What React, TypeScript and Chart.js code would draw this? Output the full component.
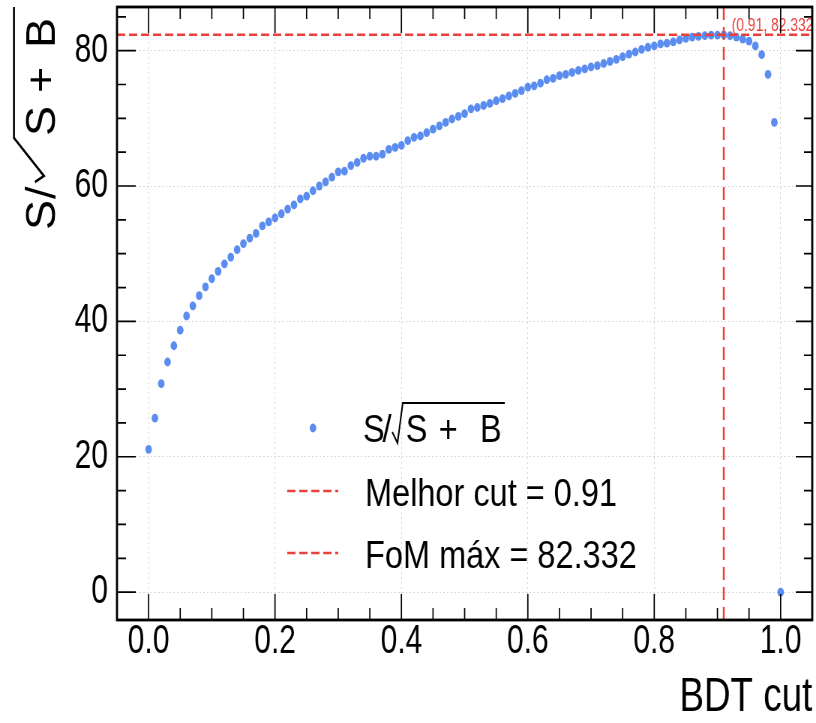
import React, { useEffect, useRef } from 'react';
import { Chart, registerables } from 'chart.js';

Chart.register(...registerables);

// ---------------- data ----------------
const bdtCut: number[] = [
  0.00, 0.01, 0.02, 0.03, 0.04, 0.05, 0.06, 0.07, 0.08, 0.09,
  0.10, 0.11, 0.12, 0.13, 0.14, 0.15, 0.16, 0.17, 0.18, 0.19,
  0.20, 0.21, 0.22, 0.23, 0.24, 0.25, 0.26, 0.27, 0.28, 0.29,
  0.30, 0.31, 0.32, 0.33, 0.34, 0.35, 0.36, 0.37, 0.38, 0.39,
  0.40, 0.41, 0.42, 0.43, 0.44, 0.45, 0.46, 0.47, 0.48, 0.49,
  0.50, 0.51, 0.52, 0.53, 0.54, 0.55, 0.56, 0.57, 0.58, 0.59,
  0.60, 0.61, 0.62, 0.63, 0.64, 0.65, 0.66, 0.67, 0.68, 0.69,
  0.70, 0.71, 0.72, 0.73, 0.74, 0.75, 0.76, 0.77, 0.78, 0.79,
  0.80, 0.81, 0.82, 0.83, 0.84, 0.85, 0.86, 0.87, 0.88, 0.89,
  0.90, 0.91, 0.92, 0.93, 0.94, 0.95, 0.96, 0.97, 0.98, 0.99,
  1.00,
];

const fomValues: number[] = [
  21.1, 25.7, 30.8, 34.0, 36.4, 38.7, 40.8, 42.3, 43.8, 45.1,
  46.3, 47.4, 48.5, 49.5, 50.6, 51.5, 52.3, 53.0, 54.1, 54.7,
  55.3, 55.9, 56.6, 57.2, 58.1, 58.5, 59.3, 60.0, 60.6, 61.3,
  62.1, 62.2, 63.0, 63.5, 64.1, 64.4, 64.4, 64.7, 65.4, 65.7,
  66.0, 66.7, 67.2, 67.4, 67.9, 68.4, 68.9, 69.4, 69.9, 70.3,
  70.7, 71.4, 71.6, 71.9, 72.2, 72.6, 72.9, 73.3, 73.7, 74.1,
  74.6, 74.8, 75.2, 75.7, 75.9, 76.3, 76.5, 76.8, 77.1, 77.3,
  77.6, 77.8, 78.1, 78.4, 78.7, 79.1, 79.5, 79.8, 80.2, 80.5,
  80.7, 81.0, 81.1, 81.3, 81.6, 81.8, 82.0, 82.1, 82.2, 82.3,
  82.3, 82.332, 82.2, 82.0, 81.7, 81.4, 80.7, 79.4, 76.5, 69.4,
  0.0,
];

const bestCut = 0.91;
const fomMax = 82.332;
const xLimits: number[] = [-0.05, 1.05];
const yLimits: number[] = [-4.117, 86.449];
const xTickStep = 0.2;
const yTickStep = 20;
const xTitle = 'BDT cut';
const seriesLabel = 'S/√(S+B)';
const cutLabel = 'Melhor cut = 0.91';
const fomLabel = 'FoM máx = 82.332';
const annotationText = '(0.91, 82.332)';

// ---------------- styles ----------------
const RED = '#e9403b';
const BLUE = '#5b8df0';
const FONT = "'Liberation Sans', Arial, sans-serif";
const W = 1088; // internal canvas width (displayed squeezed to 816)
const H = 723;
const SQ = 816 / W;

function minorValues(majors: number[], div: number, min: number, max: number): number[] {
  if (majors.length < 2) return [];
  const step = (majors[1] - majors[0]) / div;
  const out: number[] = [];
  for (let i = -div * 2; i <= (majors.length + 2) * div; i++) {
    if (i % div === 0) continue;
    const v = majors[0] + i * step;
    if (v > min + step * 0.01 && v < max - step * 0.01) out.push(v);
  }
  return out;
}

const decorPlugin = {
  id: 'decor',
  afterDraw(chart: any) {
    const ctx: CanvasRenderingContext2D = chart.ctx;
    const ca = chart.chartArea;
    const xs = chart.scales.x;
    const ys = chart.scales.y;

    // annotation text (clipped to plot frame)
    ctx.save();
    ctx.beginPath();
    ctx.rect(ca.left, ca.top, ca.right - ca.left, ca.bottom - ca.top);
    ctx.clip();
    ctx.fillStyle = RED;
    ctx.font = `18.5px ${FONT}`;
    ctx.textBaseline = 'alphabetic';
    ctx.textAlign = 'left';
    ctx.fillText(annotationText, xs.getPixelForValue(bestCut) + 10.5, ys.getPixelForValue(fomMax) - 4);
    ctx.restore();

    // ticks (inside, all four sides) + frame
    ctx.save();
    ctx.strokeStyle = '#000';
    ctx.lineWidth = 1.7;
    const xMaj = xs.ticks.map((t: any) => t.value);
    const yMaj = ys.ticks.map((t: any) => t.value);
    const xMin = minorValues(xMaj, 4, xs.min, xs.max);
    const yMin = minorValues(yMaj, 4, ys.min, ys.max);
    ctx.beginPath();
    xMaj.forEach((v: number) => {
      const p = xs.getPixelForValue(v);
      ctx.moveTo(p, ca.bottom); ctx.lineTo(p, ca.bottom - 26);
      ctx.moveTo(p, ca.top); ctx.lineTo(p, ca.top + 26);
    });
    xMin.forEach((v: number) => {
      const p = xs.getPixelForValue(v);
      ctx.moveTo(p, ca.bottom); ctx.lineTo(p, ca.bottom - 12);
      ctx.moveTo(p, ca.top); ctx.lineTo(p, ca.top + 12);
    });
    yMaj.forEach((v: number) => {
      const p = ys.getPixelForValue(v);
      ctx.moveTo(ca.left, p); ctx.lineTo(ca.left + 25, p);
      ctx.moveTo(ca.right, p); ctx.lineTo(ca.right - 22, p);
    });
    yMin.forEach((v: number) => {
      const p = ys.getPixelForValue(v);
      ctx.moveTo(ca.left, p); ctx.lineTo(ca.left + 12, p);
      ctx.moveTo(ca.right, p); ctx.lineTo(ca.right - 11, p);
    });
    ctx.stroke();
    ctx.lineWidth = 2.8;
    ctx.strokeRect(ca.left, ca.top, ca.right - ca.left, ca.bottom - ca.top);
    ctx.restore();

    // legend
    const ds = chart.data.datasets;
    ctx.save();
    const LXS = 1.14;
    const lf = 38;
    const txt = (s: string, x: number, base: number) => {
      ctx.save();
      ctx.translate(x, base);
      ctx.scale(LXS, 1);
      ctx.fillStyle = '#000';
      ctx.font = `${lf}px ${FONT}`;
      ctx.textBaseline = 'alphabetic';
      ctx.textAlign = 'left';
      ctx.fillText(s, 0, 0);
      ctx.restore();
    };
    // row 1: marker + S/sqrt(S+B)
    ctx.fillStyle = ds[0].backgroundColor;
    ctx.beginPath();
    ctx.arc(417.3, 428, 4.4, 0, Math.PI * 2);
    ctx.fill();
    const b1 = 442;
    txt('S', 484, b1);
    txt('/', 510, b1);
    ctx.strokeStyle = '#000';
    ctx.lineWidth = 2;
    ctx.beginPath();
    ctx.moveTo(523, 432);
    ctx.lineTo(530, 443);
    ctx.lineTo(537, 403);
    ctx.lineTo(673, 403);
    ctx.stroke();
    txt('S', 541, b1);
    txt('+', 585, b1);
    txt('B', 640, b1);
    // rows 2,3: dashed lines
    const rows = [
      { y: 491, base: 505.5, d: ds[1] },
      { y: 553, base: 567.5, d: ds[2] },
    ];
    rows.forEach((r) => {
      ctx.save();
      ctx.strokeStyle = r.d.borderColor;
      ctx.lineWidth = 2.5;
      ctx.setLineDash([11, 5]);
      ctx.beginPath();
      ctx.moveTo(383, r.y);
      ctx.lineTo(451, r.y);
      ctx.stroke();
      ctx.restore();
      txt(r.d.label, 486.7, r.base);
    });
    ctx.restore();

    // y axis title  S/sqrt(S+B), rotated
    ctx.save();
    ctx.translate(73.3, 230);
    ctx.rotate(-Math.PI / 2);
    const tf = 45;
    const vs = 1.24;
    const ttxt = (s: string, u: number) => {
      ctx.save();
      ctx.translate(u, 0);
      ctx.scale(1, vs);
      ctx.fillStyle = '#000';
      ctx.font = `${tf}px ${FONT}`;
      ctx.textBaseline = 'alphabetic';
      ctx.textAlign = 'left';
      ctx.fillText(s, 0, 0);
      ctx.restore();
    };
    ttxt('S', 0);
    ttxt('/', 31);
    ctx.strokeStyle = '#000';
    ctx.lineWidth = 2.6;
    ctx.beginPath();
    ctx.moveTo(48, -20 / SQ);
    ctx.lineTo(54, -11 / SQ);
    ctx.lineTo(92, -41 / SQ);
    ctx.lineTo(223, -41 / SQ);
    ctx.stroke();
    ttxt('S', 94);
    ttxt('+', 137);
    ttxt('B', 182);
    ctx.restore();
  },
};

export default function App() {
  const ref = useRef<HTMLCanvasElement | null>(null);
  useEffect(() => {
    if (!ref.current) return;
    const points = bdtCut.map((x, i) => ({ x, y: fomValues[i] }));
    const chart = new Chart(ref.current, {
      type: 'scatter',
      data: {
        datasets: [
          {
            label: seriesLabel,
            data: points,
            backgroundColor: BLUE,
            borderColor: BLUE,
            pointRadius: 4.4,
            pointBorderWidth: 0,
            showLine: false,
            order: 1,
          } as any,
          {
            type: 'line',
            label: cutLabel,
            data: [
              { x: bestCut, y: yLimits[0] },
              { x: bestCut, y: yLimits[1] },
            ],
            borderColor: RED,
            backgroundColor: RED,
            borderWidth: 2.5,
            borderDash: [13, 7],
            pointRadius: 0,
            showLine: true,
            fill: false,
            order: 0,
          } as any,
          {
            type: 'line',
            label: fomLabel,
            data: [
              { x: xLimits[0], y: fomMax },
              { x: xLimits[1], y: fomMax },
            ],
            borderColor: RED,
            backgroundColor: RED,
            borderWidth: 2.5,
            borderDash: [11, 5],
            pointRadius: 0,
            showLine: true,
            fill: false,
            order: 0,
          } as any,
        ],
      },
      options: {
        animation: false,
        responsive: false,
        devicePixelRatio: 1,
        layout: { padding: { left: 0, right: 5, top: 7, bottom: 0 } },
        plugins: {
          legend: { display: false },
          tooltip: { enabled: false },
        },
        scales: {
          x: {
            type: 'linear',
            min: xLimits[0],
            max: xLimits[1],
            afterFit: (s: any) => {
              s.height = 103;
              s.paddingLeft = 0;
              s.paddingRight = 0;
            },
            ticks: {
              stepSize: xTickStep,
              includeBounds: false,
              autoSkip: false,
              maxRotation: 0,
              padding: 2,
              color: '#000',
              font: { family: FONT, size: 40, lineHeight: 1 },
              callback: (v: any) => Number(v).toFixed(1),
            },
            grid: { color: '#d4d4d4', lineWidth: 1, drawTicks: false },
            border: { display: false, dash: [2, 3] },
            title: {
              display: true,
              text: xTitle,
              align: 'end',
              color: '#000',
              font: { family: FONT, size: 49, lineHeight: 1 },
              padding: { top: 0, bottom: 1 },
            },
          },
          y: {
            type: 'linear',
            min: yLimits[0],
            max: yLimits[1],
            afterFit: (s: any) => {
              s.width = 156;
              s.paddingTop = 0;
              s.paddingBottom = 0;
            },
            ticks: {
              stepSize: yTickStep,
              includeBounds: false,
              padding: 12,
              color: '#000',
              font: { family: FONT, size: 40, lineHeight: 1 },
              callback: (v: any) => String(Math.round(Number(v))),
            },
            grid: { color: '#d4d4d4', lineWidth: 1, drawTicks: false },
            border: { display: false, dash: [2, 3] },
            title: { display: false },
          },
        },
      } as any,
      plugins: [decorPlugin],
    });
    return () => chart.destroy();
  }, []);

  return (
    <div style={{ position: 'fixed', left: 0, top: 0, width: 816, height: 723, background: '#fff' }}>
      <canvas
        ref={ref}
        width={W}
        height={H}
        style={{ width: '816px', height: '723px', display: 'block' }}
      />
    </div>
  );
}
